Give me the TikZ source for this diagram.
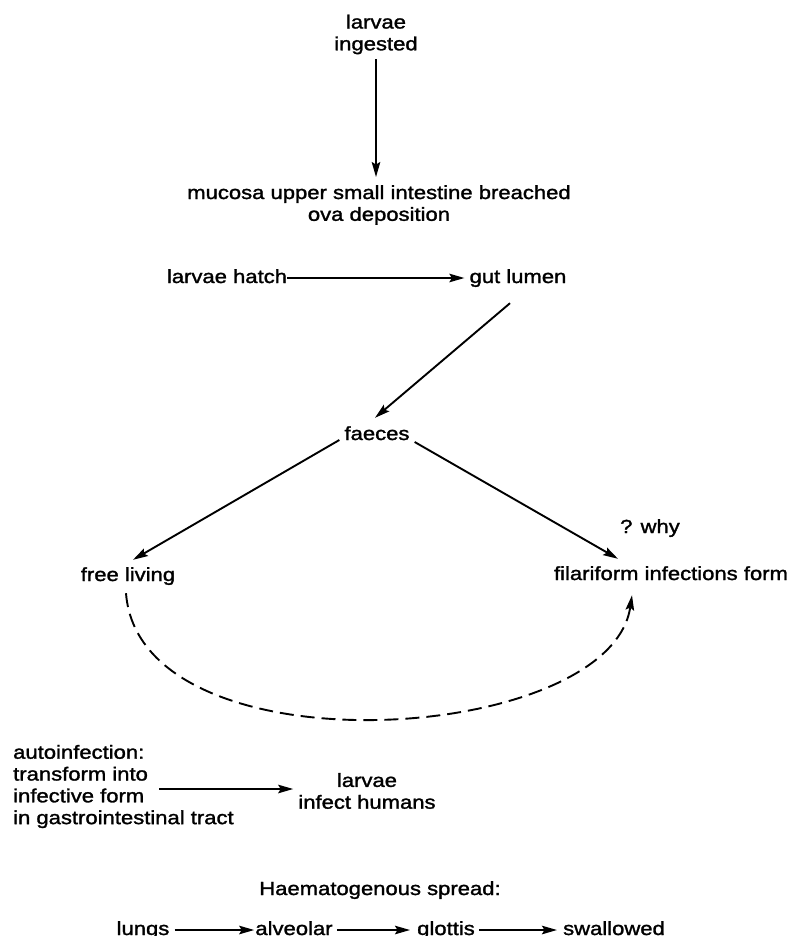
\documentclass[tikz,border=0pt]{standalone}
\usepackage{fontspec}
\setmainfont{Liberation Sans}[FakeStretch=1.16,FakeBold=1.5]
\usetikzlibrary{arrows.meta}
\begin{document}
\begin{tikzpicture}[x=1pt,y=-1pt,
  lblm/.style={inner sep=0pt, font=\fontsize{19}{21.8}\selectfont, align=center},
  lbl/.style={lblm, text height=14pt, text depth=4pt},
  arr/.style={line width=1.9pt, -{Stealth[length=15pt,width=8.5pt,inset=2.5pt]}},
  dsh/.style={line width=1.9pt, dash pattern=on 14pt off 7pt, -{Stealth[length=15pt,width=8.5pt,inset=2.5pt]}}]
\useasboundingbox (0,0) rectangle (796,936);
\fill[white] (0,0) rectangle (796,936);
\node[lblm] (ing) at (376,34.5) {larvae\\ingested};
\node[lblm] (muc) at (379,205) {mucosa upper small intestine breached\\ova deposition};
\node[lbl] (hatch) at (227,278) {larvae hatch};
\node[lbl] (gut) at (518,278) {gut lumen};
\node[lbl] (fae) at (377,435) {faeces};
\node[lbl] (free) at (128,576) {free living};
\node[lbl] (fil) at (671,575) {filariform infections form};
\node[lbl] (why) at (650,528) {? why};
\node[lblm, align=left, anchor=west] (auto) at (13,786.5) {autoinfection:\\transform into\\infective form\\in gastrointestinal tract};
\node[lblm] (inf) at (367,791) {larvae\\infect humans};
\node[lbl] (haem) at (380,890) {Haematogenous spread:};
\node[lbl] (lungs) at (143,930) {lungs};
\node[lbl] (alv) at (294,930) {alveolar};
\node[lbl] (glot) at (446,930) {glottis};
\node[lbl] (swal) at (614,930) {swallowed};

\draw[arr, shorten <=5pt, shorten >=8pt] (ing.south) -- (ing.south |- muc.north);
\draw[arr, shorten >=5pt] (hatch.east) -- (gut.west);
\draw[arr] ([xshift=-8pt,yshift=-16pt]gut.south) -- ([xshift=-2pt,yshift=8pt]fae.north);
\draw[arr] ([xshift=-5pt,yshift=-5pt]fae.west) -- ([xshift=5pt,yshift=7pt]free.north);
\draw[arr] ([xshift=5pt,yshift=-7pt]fae.east) -- ([xshift=-53pt,yshift=7pt]fil.north);
\draw[dsh] ([xshift=-2pt,yshift=-8pt]free.south) .. controls (140,775) and (610,745) .. ([xshift=-39pt,yshift=-11pt]fil.south);
\coordinate (as) at ([xshift=146pt,yshift=-2.5pt]auto.west);
\draw[arr, shorten >=5pt] (as) -- (as -| inf.west);
\draw[arr, shorten <=5pt, shorten >=1pt] (lungs.east) -- (alv.west);
\draw[arr, shorten <=4pt, shorten >=7pt] (alv.east) -- (glot.west);
\draw[arr, shorten <=4pt, shorten >=6pt] (glot.east) -- (swal.west);
\end{tikzpicture}
\end{document}
